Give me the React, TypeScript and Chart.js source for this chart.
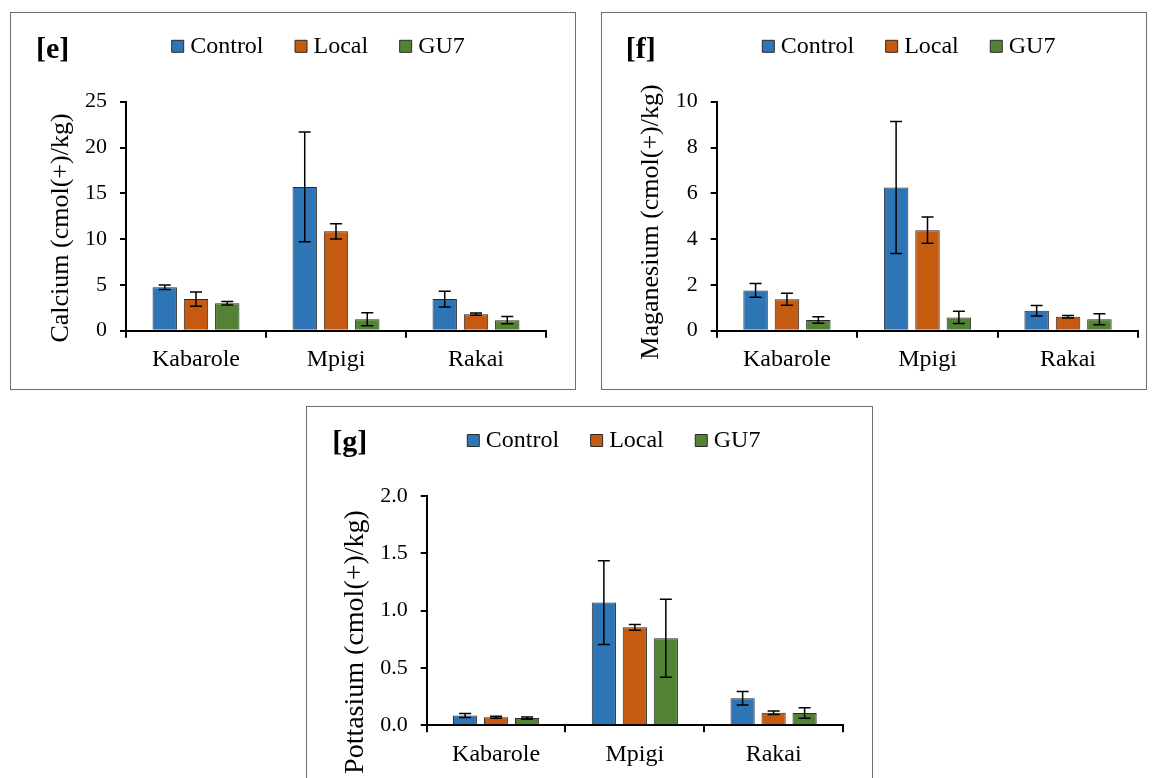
import React, { useEffect, useRef } from 'react';
import { Chart, registerables } from 'chart.js';

Chart.register(...registerables);

const FONT = "'Liberation Serif', 'Times New Roman', serif";

// ---------- data ----------
const categories = ['Kabarole', 'Mpigi', 'Rakai'];
const seriesNames = ['Control', 'Local', 'GU7'];

const calciumControl = [4.75, 15.7, 3.45];
const calciumLocal = [3.45, 10.85, 1.8];
const calciumGU7 = [3.0, 1.25, 1.15];
const calciumControlErr = [0.25, 6.0, 0.85];
const calciumLocalErr = [0.78, 0.83, 0.12];
const calciumGU7Err = [0.2, 0.7, 0.4];
const calciumTicks = [0, 5, 10, 15, 20, 25];
const calciumTickLabels = ['0', '5', '10', '15', '20', '25'];

const magnesiumControl = [1.76, 6.25, 0.87];
const magnesiumLocal = [1.37, 4.39, 0.61];
const magnesiumGU7 = [0.47, 0.58, 0.5];
const magnesiumControlErr = [0.3, 2.88, 0.23];
const magnesiumLocalErr = [0.26, 0.57, 0.05];
const magnesiumGU7Err = [0.14, 0.27, 0.24];
const magnesiumTicks = [0, 2, 4, 6, 8, 10];
const magnesiumTickLabels = ['0', '2', '4', '6', '8', '10'];

const potassiumControl = [0.085, 1.07, 0.236];
const potassiumLocal = [0.07, 0.855, 0.11];
const potassiumGU7 = [0.063, 0.76, 0.107];
const potassiumControlErr = [0.018, 0.365, 0.058];
const potassiumLocalErr = [0.008, 0.025, 0.015];
const potassiumGU7Err = [0.01, 0.34, 0.045];
const potassiumTicks = [0, 0.5, 1, 1.5, 2];
const potassiumTickLabels = ['0.0', '0.5', '1.0', '1.5', '2.0'];

const COLORS = ['#2E75B6', '#C55A11', '#548235'];
const EDGE = '#2a2a2a';

// ---------- plugins ----------
const errorBars = {
  id: 'errorBars',
  afterDatasetsDraw(chart: any) {
    const ctx = chart.ctx;
    const ys = chart.scales.y;
    ctx.save();
    ctx.strokeStyle = '#000';
    ctx.lineWidth = 1.5;
    chart.data.datasets.forEach((ds: any, i: number) => {
      const meta = chart.getDatasetMeta(i);
      meta.data.forEach((bar: any, j: number) => {
        const v = ds.data[j];
        const e = ds.errors[j];
        const x = bar.x;
        const y1 = ys.getPixelForValue(v + e);
        const y2 = ys.getPixelForValue(Math.max(v - e, 0));
        ctx.beginPath();
        ctx.moveTo(x, y1);
        ctx.lineTo(x, y2);
        ctx.moveTo(x - 6, y1);
        ctx.lineTo(x + 6, y1);
        ctx.moveTo(x - 6, y2);
        ctx.lineTo(x + 6, y2);
        ctx.stroke();
      });
    });
    ctx.restore();
  },
};

// moves the library legend to the measured spot (x = centre of the first swatch, y = text centre)
const legendPlace = {
  id: 'legendPlace',
  afterLayout(chart: any, _args: any, opts: any) {
    const lg = chart.legend;
    if (!lg || opts.x == null) return;
    const pad = lg.options.labels.padding;
    const w = lg.right - lg.left;
    const h = lg.bottom - lg.top;
    lg.left = opts.x - 0.5 - pad;
    lg.right = lg.left + w;
    lg.top = opts.y - pad - 12;
    lg.bottom = lg.top + h;
  },
};

const panelText = {
  id: 'panelText',
  afterDraw(chart: any, _args: any, o: any) {
    const ctx = chart.ctx;
    ctx.save();
    ctx.fillStyle = '#000';
    ctx.font = `bold 30px ${FONT}`;
    ctx.textAlign = 'left';
    ctx.textBaseline = 'middle';
    ctx.fillText(o.tag, o.tagX, o.tagY);
    ctx.translate(o.titleX, o.titleY);
    ctx.rotate(-Math.PI / 2);
    ctx.font = `${o.titleSize}px ${FONT}`;
    ctx.textAlign = 'center';
    ctx.fillText(o.title, 0, 0);
    ctx.restore();
  },
};

// ---------- panel configs ----------
const panels = [
  {
    key: 'e',
    tag: '[e]',
    title: 'Calcium (cmol(+)/kg)',
    values: [calciumControl, calciumLocal, calciumGU7],
    errors: [calciumControlErr, calciumLocalErr, calciumGU7Err],
    ticks: calciumTicks,
    tickLabels: calciumTickLabels,
    box: { left: 10, top: 12, width: 566, height: 378 },
    canvas: { left: 11, top: 13, width: 564, height: 376 },
    pad: { right: 29, top: 17.7 },
    yWidth: 115,
    xHeight: 58.3,
    legend: { x: 166.7, y: 33.3 },
    text: { tagX: 25, tagY: 37, titleX: 50, titleY: 215, titleSize: 26 },
  },
  {
    key: 'f',
    tag: '[f]',
    title: 'Maganesium (cmol(+)/kg)',
    values: [magnesiumControl, magnesiumLocal, magnesiumGU7],
    errors: [magnesiumControlErr, magnesiumLocalErr, magnesiumGU7Err],
    ticks: magnesiumTicks,
    tickLabels: magnesiumTickLabels,
    box: { left: 601, top: 12, width: 546, height: 378 },
    canvas: { left: 602, top: 13, width: 544, height: 376 },
    pad: { right: 7.7, top: 17.7 },
    yWidth: 114.7,
    xHeight: 58.3,
    legend: { x: 166.3, y: 33.3 },
    text: { tagX: 23.7, tagY: 37, titleX: 49, titleY: 209, titleSize: 26 },
  },
  {
    key: 'g',
    tag: '[g]',
    title: 'Pottasium (cmol(+)/kg)',
    values: [potassiumControl, potassiumLocal, potassiumGU7],
    errors: [potassiumControlErr, potassiumLocalErr, potassiumGU7Err],
    ticks: potassiumTicks,
    tickLabels: potassiumTickLabels,
    box: { left: 306, top: 406, width: 567, height: 420 },
    canvas: { left: 307, top: 407, width: 565, height: 371 },
    pad: { right: 29, top: 18 },
    yWidth: 119.7,
    xHeight: 52.7,
    legend: { x: 166.3, y: 33.5 },
    text: { tagX: 25.3, tagY: 36.5, titleX: 49, titleY: 235, titleSize: 28 },
  },
];

function Panel({ p }: { p: any }) {
  const ref = useRef<HTMLCanvasElement | null>(null);
  useEffect(() => {
    if (!ref.current) return;
    const datasets = seriesNames.map((name, i) => ({
      label: name,
      data: p.values[i],
      errors: p.errors[i],
      backgroundColor: COLORS[i],
      borderColor: EDGE,
      borderWidth: 1,
      categoryPercentage: 0.67,
      barPercentage: 0.78,
    }));
    const chart = new Chart(ref.current, {
      type: 'bar',
      data: { labels: categories, datasets },
      options: {
        responsive: false,
        animation: false,
        events: [],
        layout: { padding: { left: 0, right: p.pad.right, top: p.pad.top, bottom: 0 } },
        scales: {
          x: {
            type: 'category',
            offset: true,
            grid: {
              display: true,
              drawOnChartArea: false,
              drawTicks: true,
              tickLength: 7,
              color: '#000',
              lineWidth: 2,
              offset: true,
            },
            border: { display: true, color: '#000', width: 2 },
            ticks: {
              color: '#000',
              font: { family: FONT, size: 24 },
              padding: 8,
              maxRotation: 0,
              autoSkip: false,
            },
            afterFit: (s: any) => {
              s.height = p.xHeight;
            },
          },
          y: {
            min: p.ticks[0],
            max: p.ticks[p.ticks.length - 1],
            grid: {
              display: true,
              drawOnChartArea: false,
              drawTicks: true,
              tickLength: 6,
              color: '#000',
              lineWidth: 2,
            },
            border: { display: true, color: '#000', width: 2 },
            ticks: {
              color: '#000',
              font: { family: FONT, size: 22 },
              padding: 13,
              callback: (_v: any, idx: number) => p.tickLabels[idx],
            },
            afterBuildTicks: (s: any) => {
              s.ticks = p.ticks.map((v: number) => ({ value: v }));
            },
            afterFit: (s: any) => {
              s.width = p.yWidth;
            },
          },
        },
        plugins: {
          legend: {
            display: true,
            position: 'top',
            align: 'start',
            labels: {
              usePointStyle: true,
              pointStyle: 'rect',
              boxWidth: 1,
              boxHeight: 12,
              padding: 37,
              color: '#000',
              font: { family: FONT, size: 24 },
            },
          },
          tooltip: { enabled: false },
          legendPlace: p.legend,
          panelText: { tag: p.tag, title: p.title, ...p.text },
        } as any,
      },
      plugins: [errorBars, legendPlace, panelText],
    } as any);
    return () => chart.destroy();
  }, []);
  return (
    <>
      <div
        style={{
          position: 'absolute',
          left: p.box.left,
          top: p.box.top,
          width: p.box.width,
          height: p.box.height,
          border: '1px solid #6e6e6e',
          boxSizing: 'border-box',
        }}
      />
      <canvas
        ref={ref}
        width={p.canvas.width}
        height={p.canvas.height}
        style={{
          position: 'absolute',
          left: p.canvas.left,
          top: p.canvas.top,
          width: p.canvas.width,
          height: p.canvas.height,
        }}
      />
    </>
  );
}

export default function App() {
  return (
    <div
      style={{
        position: 'fixed',
        left: 0,
        top: 0,
        width: 1156,
        height: 778,
        overflow: 'hidden',
        background: '#fff',
      }}
    >
      {panels.map((p) => (
        <Panel key={p.key} p={p} />
      ))}
    </div>
  );
}
